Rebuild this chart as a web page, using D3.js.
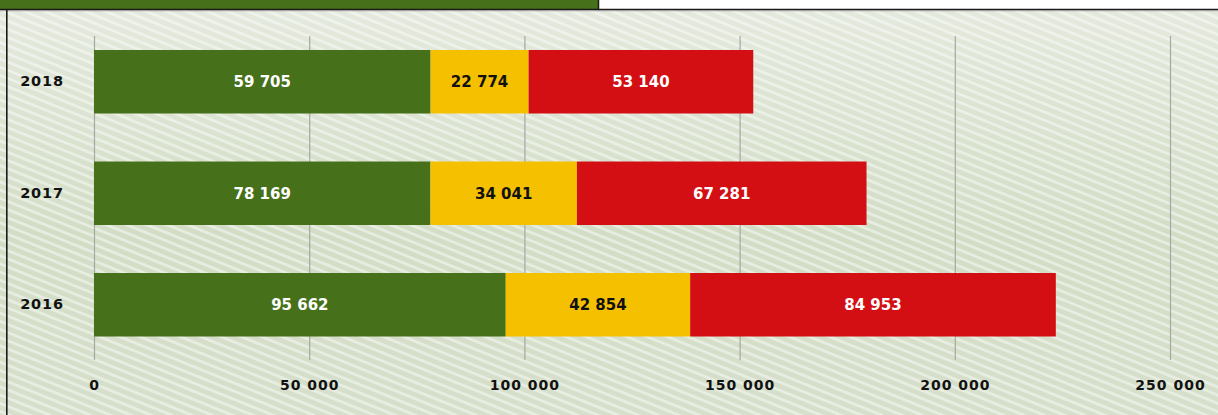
<!DOCTYPE html>
<html>
<head>
<meta charset="utf-8">
<script src="https://cdn.jsdelivr.net/npm/d3@7"></script>
<style>
  html, body { margin: 0; padding: 0; background: #ffffff; }
  svg { display: block; }
</style>
</head>
<body>
<svg id="chart" width="1218" height="415"></svg>
<script>
// ---- data ----
const years = ["2018", "2017", "2016"];
// bar lengths as drawn in the picture
const greenValues = [78200, 78169, 95662];
const yellowValues = [22774, 34041, 42854];
const redValues = [52200, 67281, 84953];
// printed labels
const greenLabels = ["59 705", "78 169", "95 662"];
const yellowLabels = ["22 774", "34 041", "42 854"];
const redLabels = ["53 140", "67 281", "84 953"];
const xTicks = [0, 50000, 100000, 150000, 200000, 250000];
const xTickLabels = ["0", "50 000", "100 000", "150 000", "200 000", "250 000"];

const seriesColors = ["#46711a", "#f5c000", "#d40f14"];
const labelColors = ["#ffffff", "#111111", "#ffffff"];

const W = 1218, H = 415;
const svg = d3.select("#chart");
const defs = svg.append("defs");

// background gradient + diagonal stripes
const grad = defs.append("linearGradient").attr("id", "bgGrad")
  .attr("x1", 0).attr("y1", 0).attr("x2", 0).attr("y2", 1);
grad.append("stop").attr("offset", "0%").attr("stop-color", "#e4e9dd");
grad.append("stop").attr("offset", "55%").attr("stop-color", "#d2ddc6");
grad.append("stop").attr("offset", "100%").attr("stop-color", "#d6dfcb");

const pat = defs.append("pattern").attr("id", "stripes")
  .attr("patternUnits", "userSpaceOnUse")
  .attr("width", 20).attr("height", 7.6)
  .attr("patternTransform", "rotate(22)");
pat.append("rect").attr("x", 0).attr("y", 0).attr("width", 20).attr("height", 2.8)
  .attr("fill", "#ffffff").attr("fill-opacity", 0.45);

svg.append("rect").attr("x", 0).attr("y", 10).attr("width", W).attr("height", H - 10)
  .attr("fill", "url(#bgGrad)");
svg.append("rect").attr("x", 0).attr("y", 10).attr("width", W).attr("height", H - 10)
  .attr("fill", "url(#stripes)");

// header strip
svg.append("rect").attr("x", 0).attr("y", 0).attr("width", 598).attr("height", 9)
  .attr("fill", "#46711a");
svg.append("line").attr("x1", 598.5).attr("x2", 598.5).attr("y1", 0).attr("y2", 10)
  .attr("stroke", "#1a1a1a").attr("stroke-width", 1.5);
svg.append("line").attr("x1", 0).attr("x2", W).attr("y1", 9.5).attr("y2", 9.5)
  .attr("stroke", "#1a1a1a").attr("stroke-width", 1.5);
svg.append("line").attr("x1", 0).attr("x2", W).attr("y1", 10.8).attr("y2", 10.8)
  .attr("stroke", "#888").attr("stroke-opacity", 0.6).attr("stroke-width", 1);
// left border
svg.append("line").attr("x1", 6.8).attr("x2", 6.8).attr("y1", 10).attr("y2", H)
  .attr("stroke", "#1a1a1a").attr("stroke-width", 1.6);

// scales
const x = d3.scaleLinear().domain([0, 250000]).range([94, 1170]);
const y = d3.scaleBand().domain(years).range([26, 360.5])
  .paddingInner(0.4305).paddingOuter(0.2152);

// grid
svg.append("g").selectAll("line").data(xTicks).join("line")
  .attr("x1", d => x(d) + 0.5).attr("x2", d => x(d) + 0.5)
  .attr("y1", 36).attr("y2", 360)
  .attr("stroke", "#a6a8a4").attr("stroke-width", 1.2);

// stacked bars
const rows = years.map((yr, i) => ({
  year: yr,
  vals: [greenValues[i], yellowValues[i], redValues[i]],
  labels: [greenLabels[i], yellowLabels[i], redLabels[i]]
}));
const segs = [];
rows.forEach(r => {
  let acc = 0;
  r.vals.forEach((v, k) => {
    segs.push({ year: r.year, x0: acc, x1: acc + v, k, label: r.labels[k] });
    acc += v;
  });
});

svg.append("g").selectAll("rect").data(segs).join("rect")
  .attr("x", d => x(d.x0))
  .attr("y", d => y(d.year))
  .attr("width", d => x(d.x1) - x(d.x0))
  .attr("height", y.bandwidth())
  .attr("fill", d => seriesColors[d.k]);

svg.append("g").selectAll("text").data(segs).join("text")
  .attr("x", d => (x(d.x0) + x(d.x1)) / 2)
  .attr("y", d => y(d.year) + y.bandwidth() / 2)
  .attr("dy", "0.36em")
  .attr("text-anchor", "middle")
  .attr("font-family", "'DejaVu Sans', sans-serif")
  .attr("font-weight", "bold")
  .attr("font-size", 15)
  .attr("fill", d => labelColors[d.k])
  .text(d => d.label);

// y labels
const yAxis = d3.axisLeft(y).tickSize(0).tickPadding(0);
const yg = svg.append("g").attr("transform", "translate(42,0)").call(yAxis);
yg.select(".domain").remove();
yg.selectAll("text")
  .attr("text-anchor", "middle")
  .attr("x", 0)
  .attr("font-family", "'DejaVu Sans', sans-serif")
  .attr("font-weight", "bold")
  .attr("font-size", 14.5)
  .attr("letter-spacing", 0.8)
  .attr("fill", "#111");

// x labels
const xAxis = d3.axisBottom(x).tickValues(xTicks)
  .tickFormat((d, i) => xTickLabels[i]).tickSize(0).tickPadding(0);
const xg = svg.append("g").attr("transform", "translate(0,380)").call(xAxis);
xg.select(".domain").remove();
xg.selectAll("text")
  .attr("font-family", "'DejaVu Sans', sans-serif")
  .attr("font-weight", "bold")
  .attr("font-size", 14)
  .attr("letter-spacing", 1)
  .attr("fill", "#111");
</script>
</body>
</html>
